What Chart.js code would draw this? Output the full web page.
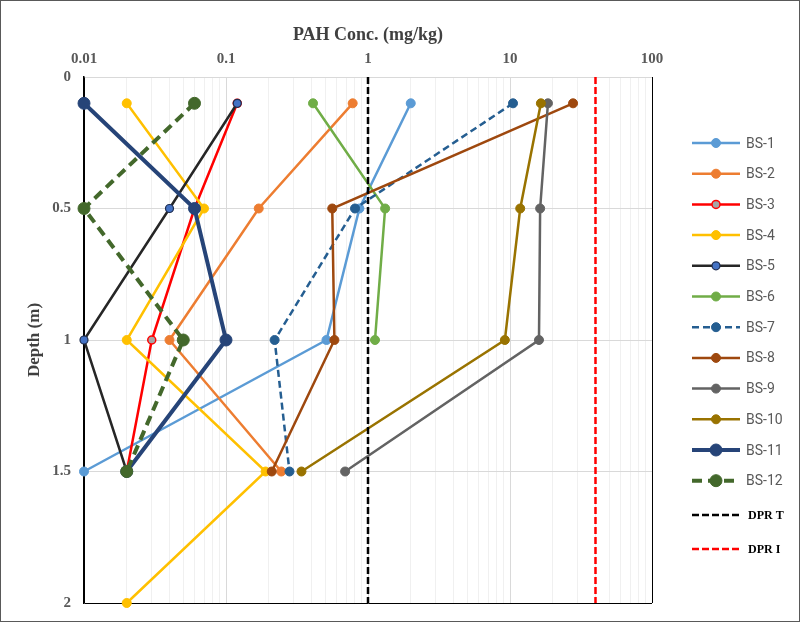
<!DOCTYPE html>
<html>
<head>
<meta charset="utf-8">
<script src="https://cdn.jsdelivr.net/npm/chart.js@4.4.1/dist/chart.umd.min.js"></script>
<style>
    body { margin: 0; background: #fff; }
    #wrap { position: relative; width: 800px; height: 623px; }
    #chart { position: absolute; left: 0; top: 0; }
    #frame { position: absolute; left: 0; top: 0; width: 800px; height: 622px; box-sizing: border-box; border: 1px solid #595959; pointer-events: none; }
</style>
</head>
<body>
<div id="wrap">
    <canvas id="chart" width="800" height="623"></canvas>
    <div id="frame"></div>
</div>
<script>
// Depth of each sample (m)
const depths = [0.1, 0.5, 1, 1.5];
const depthsBS4 = [0.1, 0.5, 1, 1.5, 2];
const depthsBS6 = [0.1, 0.5, 1];
const depthsDPR = [0, 2];

// PAH concentration (mg/kg) per borehole
const bs1 = [2.0, 0.87, 0.51, 0.01];
const bs2 = [0.78, 0.17, 0.04, 0.245];
const bs3 = [0.12, 0.06, 0.03, 0.02];
const bs4 = [0.02, 0.07, 0.02, 0.19, 0.02];
const bs5 = [0.12, 0.04, 0.01, 0.02];
const bs6 = [0.41, 1.32, 1.12];
const bs7 = [10.5, 0.81, 0.22, 0.28];
const bs8 = [27.8, 0.56, 0.58, 0.21];
const bs9 = [18.5, 16.3, 16, 0.69];
const bs10 = [16.5, 11.8, 9.2, 0.34];
const bs11 = [0.01, 0.06, 0.1, 0.02];
const bs12 = [0.06, 0.01, 0.05, 0.02];

// Guideline values (mg/kg)
const dprT = [1, 1];
const dprI = [40, 40];

// Axis ticks
const xMajorTicks = [0.01, 0.1, 1, 10, 100];
const xMinorSteps = [2, 3, 4, 5, 6, 7, 8, 9];
const yTicks = [0, 0.5, 1, 1.5, 2];

const points = (xs, ys) => xs.map((x, i) => ({ x: x, y: ys[i] }));

const series = (label, xs, ys, color, extra) => Object.assign({
    label: label,
    data: points(xs, ys),
    borderColor: color,
    backgroundColor: color,
    pointBackgroundColor: color,
    pointBorderColor: color,
    borderWidth: 2.5,
    pointRadius: 4.5,
    pointBorderWidth: 1,
    tension: 0,
    clip: false
}, extra || {});

const datasets = [
    series('BS-1', bs1, depths, '#5B9BD5'),
    series('BS-2', bs2, depths, '#ED7D31'),
    series('BS-3', bs3, depths, '#FF0000', { pointBackgroundColor: '#A5A5A5', pointBorderColor: '#FF0000', pointBorderWidth: 1.5, pointRadius: 4 }),
    series('BS-4', bs4, depthsBS4, '#FFC000'),
    series('BS-5', bs5, depths, '#262626', { pointBackgroundColor: '#4472C4', pointBorderColor: '#1F2D4F', pointBorderWidth: 1.2, pointRadius: 4 }),
    series('BS-6', bs6, depthsBS6, '#70AD47'),
    series('BS-7', bs7, depths, '#255E91', { borderDash: [7, 4] }),
    series('BS-8', bs8, depths, '#9E480E'),
    series('BS-9', bs9, depths, '#636363'),
    series('BS-10', bs10, depths, '#997300'),
    series('BS-11', bs11, depths, '#264478', { borderWidth: 4, pointRadius: 6 }),
    series('BS-12', bs12, depths, '#43682B', { borderWidth: 4, pointRadius: 6, borderDash: [10, 6] }),
    series('DPR T', dprT, depthsDPR, '#000000', { borderWidth: 2.5, pointRadius: 0, borderDash: [7, 3] }),
    series('DPR I', dprI, depthsDPR, '#FF0000', { borderWidth: 2.5, pointRadius: 0, borderDash: [7, 3] })
];
// later series on top, like the original
datasets.forEach((d, i) => { d.order = datasets.length - i; });

const xGridTicks = [];
xMajorTicks.forEach((m, i) => {
    xGridTicks.push(m);
    if (i < xMajorTicks.length - 1) xMinorSteps.forEach(s => xGridTicks.push(+(m * s).toPrecision(3)));
});

// Legend drawn by hand: line sample with marker, per-item fonts
const sideLegend = {
    id: 'sideLegend',
    afterDraw(chart) {
        const ctx = chart.ctx;
        const x0 = 692, x1 = 740, tx = 746;
        chart.data.datasets.forEach((d, i) => {
            const y = i < 12 ? 143 + i * 30.7 : 515 + (i - 12) * 34;
            ctx.save();
            ctx.strokeStyle = d.borderColor;
            ctx.lineWidth = d.borderWidth;
            ctx.setLineDash(d.borderDash || []);
            ctx.beginPath();
            ctx.moveTo(x0, y);
            ctx.lineTo(x1, y);
            ctx.stroke();
            ctx.setLineDash([]);
            if (d.pointRadius > 0) {
                ctx.beginPath();
                ctx.arc((x0 + x1) / 2, y, d.pointRadius, 0, Math.PI * 2);
                ctx.fillStyle = d.pointBackgroundColor;
                ctx.fill();
                ctx.lineWidth = d.pointBorderWidth;
                ctx.strokeStyle = d.pointBorderColor;
                ctx.stroke();
            }
            ctx.textBaseline = 'middle';
            ctx.textAlign = 'left';
            if (i < 12) {
                ctx.font = '14px Roboto';
                ctx.fillStyle = '#595959';
            } else {
                ctx.font = 'bold 12px "Liberation Serif"';
                ctx.fillStyle = '#000000';
            }
            ctx.fillText(d.label, i < 12 ? tx : tx + 2, y + 1);
            ctx.restore();
        });
    }
};

const serif = '"Liberation Serif", "Times New Roman", serif';

new Chart(document.getElementById('chart'), {
    type: 'line',
    data: { datasets: datasets },
    options: {
        responsive: false,
        animation: false,
        layout: { padding: { left: 0, top: 0, right: 148, bottom: 20 } },
        plugins: {
            legend: { display: false },
            tooltip: { enabled: false }
        },
        scales: {
            x: {
                type: 'logarithmic',
                position: 'top',
                min: 0.01,
                max: 100,
                afterBuildTicks: (scale) => {
                    scale.ticks = xGridTicks.map(v => ({ value: v, major: xMajorTicks.includes(v) }));
                },
                afterFit: (scale) => {
                    scale.height = 77;
                    scale.paddingLeft = 0;
                    scale.paddingRight = 0;
                },
                ticks: {
                    autoSkip: false,
                    maxRotation: 0,
                    padding: 9,
                    color: '#595959',
                    font: { family: serif, size: 15, weight: 'bold' },
                    callback: (v) => xMajorTicks.includes(v) ? String(v) : ''
                },
                grid: {
                    drawTicks: false,
                    lineWidth: 1,
                    color: (c) => {
                        const v = c.tick && c.tick.value;
                        if (v === 100 || v === 0.01) return '#000000';
                        return xMajorTicks.includes(v) ? '#D9D9D9' : '#F0F0F0';
                    }
                },
                border: { display: false },
                title: {
                    display: true,
                    text: 'PAH Conc. (mg/kg)',
                    color: '#404040',
                    padding: { top: 25, bottom: 0 },
                    font: { family: serif, size: 18, weight: 'bold' }
                }
            },
            y: {
                type: 'linear',
                reverse: true,
                min: 0,
                max: 2,
                afterBuildTicks: (scale) => {
                    scale.ticks = yTicks.map(v => ({ value: v }));
                },
                afterFit: (scale) => {
                    scale.width = 84;
                    scale.paddingTop = 0;
                    scale.paddingBottom = 0;
                },
                ticks: {
                    padding: 13,
                    color: '#595959',
                    font: { family: serif, size: 15, weight: 'bold' },
                    callback: (v) => String(v)
                },
                grid: {
                    drawTicks: false,
                    lineWidth: 1,
                    color: (c) => (c.tick && c.tick.value === 2) ? '#000000' : '#D9D9D9'
                },
                border: { display: true, color: '#000000', width: 1.5 },
                title: {
                    display: true,
                    text: 'Depth (m)',
                    color: '#404040',
                    padding: { top: 24, bottom: 0 },
                    font: { family: serif, size: 17, weight: 'bold' }
                }
            }
        }
    },
    plugins: [sideLegend]
});
</script>
</body>
</html>
